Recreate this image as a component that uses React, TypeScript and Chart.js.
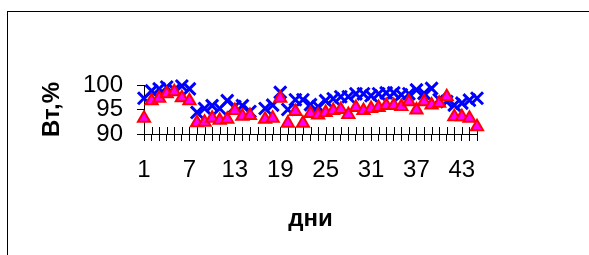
import React, { useEffect, useRef } from "react";
import { Chart, registerables } from "chart.js";

Chart.register(...registerables);

const days: string[] = Array.from({ length: 45 }, (_, i) => String(i + 1));

const seriesBlue: (number | null)[] = [
  97.3, 98.8, 99.2, 99.6, 99.0, 99.8, 99.2, 94.4, 95.2, 95.8,
  95.2, 96.8, 95.6, 95.8, 94.6, null, 95.2, 95.9, 98.5, 95.0,
  97.0, 97.0, 96.0, 95.6, 96.8, 97.2, 97.6, 97.6, 98.2, 98.2,
  97.8, 98.2, 98.4, 98.4, 98.0, 98.2, 99.0, 98.3, 99.3, 97.0,
  96.6, 95.9, 96.3, 96.9, 97.3,
];

const seriesTri: (number | null)[] = [
  93.2, 96.8, 97.3, 98.2, 98.6, 97.4, 96.8, 92.3, 92.4, 93.2,
  92.8, 93.0, 94.8, 93.6, 93.8, null, 93.0, 93.2, 97.3, 92.2,
  94.6, 92.2, 94.2, 93.9, 94.4, 94.8, 95.0, 94.0, 95.4, 94.8,
  95.2, 95.4, 95.8, 95.8, 95.6, 96.6, 94.9, 96.6, 95.9, 96.3,
  97.6, 93.5, 93.5, 93.2, 91.5,
];

const yTicks: number[] = [90, 95, 100];
const labelEvery = 6;

const FONT = "'Liberation Sans', Arial, sans-serif";

const upperTicks = {
  id: "upperTicks",
  beforeDatasetsDraw(chart: any) {
    const x = chart.scales.x;
    const ctx = chart.ctx;
    const bottom = chart.chartArea.bottom;
    ctx.save();
    ctx.strokeStyle = "#000";
    ctx.lineWidth = 1;
    for (let i = 0; i < x.ticks.length; i++) {
      const px = Math.round(x.getPixelForTick(i)) + 0.5;
      ctx.beginPath();
      ctx.moveTo(px, bottom - 7);
      ctx.lineTo(px, bottom);
      ctx.stroke();
    }
    ctx.restore();
  },
};

export default function App() {
  const ref = useRef<HTMLCanvasElement | null>(null);

  useEffect(() => {
    if (!ref.current) return;
    const chart = new Chart(ref.current, {
      type: "line",
      data: {
        labels: days,
        datasets: [
          {
            label: "tri",
            data: seriesTri,
            showLine: false,
            pointStyle: "triangle",
            pointRadius: 7,
            pointBackgroundColor: "#FF00FF",
            pointBorderColor: "#FF0000",
            pointBorderWidth: 2,
            clip: false as any,
          },
          {
            label: "x",
            data: seriesBlue,
            showLine: false,
            pointStyle: "crossRot",
            pointRadius: 8.5,
            pointBorderColor: "#0000FF",
            pointBackgroundColor: "#0000FF",
            pointBorderWidth: 3,
            clip: false as any,
          },
        ],
      },
      options: {
        animation: false,
        responsive: false,
        maintainAspectRatio: false,
        layout: { padding: { left: 0, right: 112, top: 85, bottom: 0 } },
        plugins: { legend: { display: false }, tooltip: { enabled: false } },
        scales: {
          x: {
            type: "category",
            offset: false,
            grid: {
              display: true,
              drawOnChartArea: false,
              drawTicks: true,
              tickLength: 7,
              color: "#000",
              offset: false,
            },
            border: { display: true, color: "#000", width: 1 },
            ticks: {
              autoSkip: false,
              maxRotation: 0,
              minRotation: 0,
              padding: 15,
              color: "#000",
              font: { family: FONT, size: 24 },
              callback: (_v: any, idx: number) => (idx % labelEvery === 0 ? days[idx] : ""),
            },
            title: {
              display: true,
              text: "дни",
              color: "#000",
              font: { family: FONT, size: 24, weight: "bold" },
              padding: { top: 0, bottom: 21 },
            },
            afterFit: (s: any) => {
              s.height = 121;
            },
          },
          y: {
            min: 90,
            max: 100,
            afterBuildTicks: (s: any) => {
              s.ticks = yTicks.map((v) => ({ value: v }));
            },
            grid: {
              display: true,
              drawOnChartArea: false,
              drawTicks: true,
              tickLength: 7,
              color: "#000",
            },
            border: { display: true, color: "#000", width: 1 },
            ticks: {
              autoSkip: false,
              padding: 14,
              color: "#000",
              font: { family: FONT, size: 24 },
            },
            title: {
              display: true,
              text: "Вт,%",
              color: "#000",
              font: { family: FONT, size: 24, weight: "bold" },
              padding: { top: 38, bottom: 0 },
            },
            afterFit: (s: any) => {
              s.width = 144;
            },
          },
        },
      },
      plugins: [upperTicks],
    });
    return () => chart.destroy();
  }, []);

  return (
    <div
      style={{
        position: "fixed",
        left: 0,
        top: 0,
        width: 589,
        height: 255,
        overflow: "hidden",
        background: "#fff",
      }}
    >
      <div
        style={{
          position: "absolute",
          left: 7,
          top: 11,
          width: 700,
          height: 400,
          borderTop: "1px solid #000",
          borderLeft: "1px solid #000",
        }}
      />
      <canvas ref={ref} width={589} height={255} style={{ position: "absolute", left: 0, top: 0 }} />
    </div>
  );
}
